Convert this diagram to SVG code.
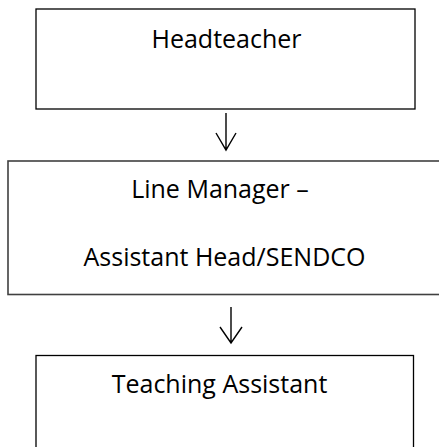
<svg xmlns="http://www.w3.org/2000/svg" width="439" height="447" viewBox="0 0 439 447">
<style>
.box{fill:#fff;stroke:#000;stroke-width:1.3}
.box2{fill:#fff;stroke:#404040;stroke-width:1.6}
.lbl{font-family:"Open Sans","Noto Sans",sans-serif;font-size:25px;fill:#000;text-anchor:middle}
.con{fill:none;stroke:#000;stroke-width:1.4}
</style>
<rect width="439" height="447" fill="#fff"/>
<g id="headteacher">
<rect class="box" x="36" y="9" width="379" height="100"/>
<text class="lbl" x="226.5" y="48">Headteacher</text>
</g>
<g id="line-manager">
<rect class="box2" x="8" y="161" width="440" height="133.5"/>
<text class="lbl" x="220" y="198">Line Manager –</text>
<text class="lbl" x="224.5" y="266">Assistant Head/SENDCO</text>
</g>
<g id="teaching-assistant">
<rect class="box" x="36" y="355.5" width="377.5" height="110"/>
<text class="lbl" x="219.5" y="393">Teaching Assistant</text>
</g>
<g id="connectors">
<path class="con" d="M226 113V150M216 133L226 150L236 133"/>
<path class="con" d="M231 307V343M220 327L231 343L242 327"/>
</g>
</svg>
